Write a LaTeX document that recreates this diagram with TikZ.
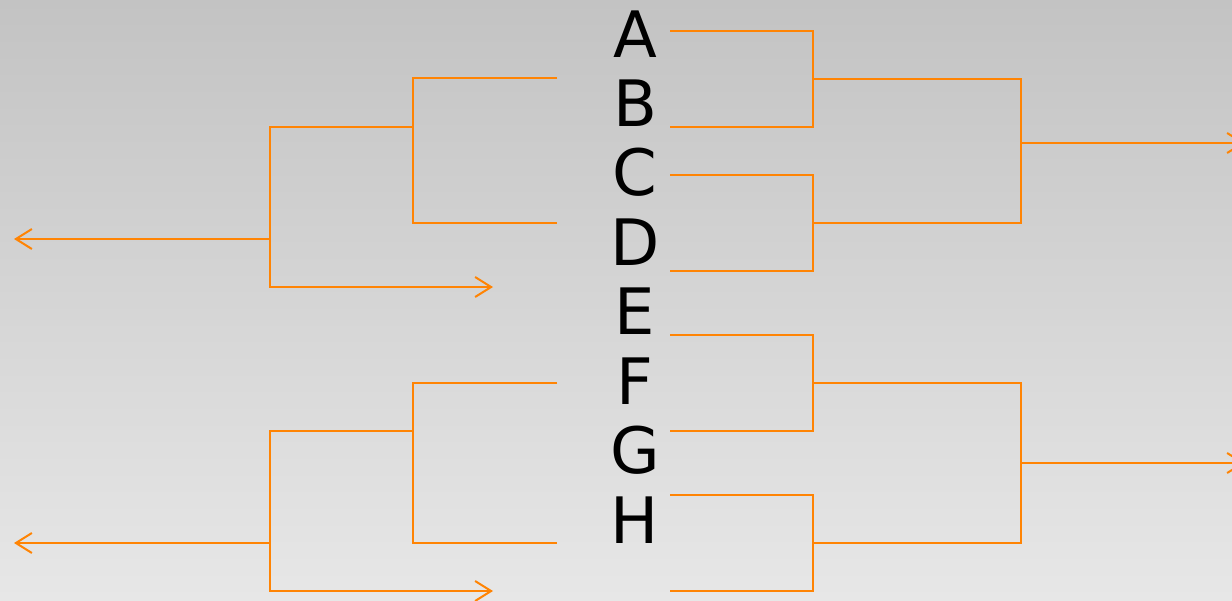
\documentclass[tikz,border=0pt]{standalone}
\usepackage{fontspec}
\setmainfont{DejaVu Sans}
\usetikzlibrary{arrows.meta}
\definecolor{Orange}{HTML}{FF8404}
\definecolor{BgTop}{HTML}{C3C3C3}
\definecolor{BgBottom}{HTML}{E7E7E7}

\begin{document}
\begin{tikzpicture}[x=1pt,y=-1pt,
  wire/.style={draw=Orange,line width=2.5pt},
  arr/.style={wire,-{Straight Barb[length=16pt,width=20pt,line width=2pt]}},
  team/.style={font=\fontsize{64}{64}\selectfont,anchor=base,inner sep=0pt}]
  \shade[top color=BgTop,bottom color=BgBottom] (0,0) rectangle (1232,600);
  \useasboundingbox (0,0) rectangle (1232,600);
  \clip (0,0) rectangle (1232,600);
  % teams
  \foreach \l [count=\i from 0] in {A,B,C,D,E,F,G,H}
    \node[team] (\l) at (635,{57+69.43*\i}) {\l};
  % right side
  \coordinate (ab) at (813,79);
  \coordinate (cd) at (813,223);
  \coordinate (ef) at (813,383);
  \coordinate (gh) at (813,543);
  \coordinate (abcd) at (1021,143);
  \coordinate (efgh) at (1021,463);
  \coordinate (outR1) at (1245,143);
  \coordinate (outR2) at (1245,463);
  \draw[wire] (670,31) -| (ab) |- (670,127);
  \draw[wire] (670,175) -| (cd) |- (670,271);
  \draw[wire] (670,335) -| (ef) |- (670,431);
  \draw[wire] (670,495) -| (gh) |- (670,591);
  \draw[wire] (ab) -| (abcd) |- (cd);
  \draw[wire] (ef) -| (efgh) |- (gh);
  \draw[arr] (abcd) -- (outR1);
  \draw[arr] (efgh) -- (outR2);
  % left side
  \coordinate (lt) at (413,127);
  \coordinate (lb) at (413,431);
  \coordinate (ljt) at (270,239);
  \coordinate (ljb) at (270,543);
  \coordinate (outL1) at (14,239);
  \coordinate (outL2) at (14,543);
  \draw[wire] (557,78) -| (lt) |- (557,223);
  \draw[wire] (557,383) -| (lb) |- (557,543);
  \draw[arr] (lt) -| (270,287) -- (493,287);
  \draw[arr] (lb) -| (270,591) -- (493,591);
  \draw[arr] (ljt) -- (outL1);
  \draw[arr] (ljb) -- (outL2);
\end{tikzpicture}
\end{document}
